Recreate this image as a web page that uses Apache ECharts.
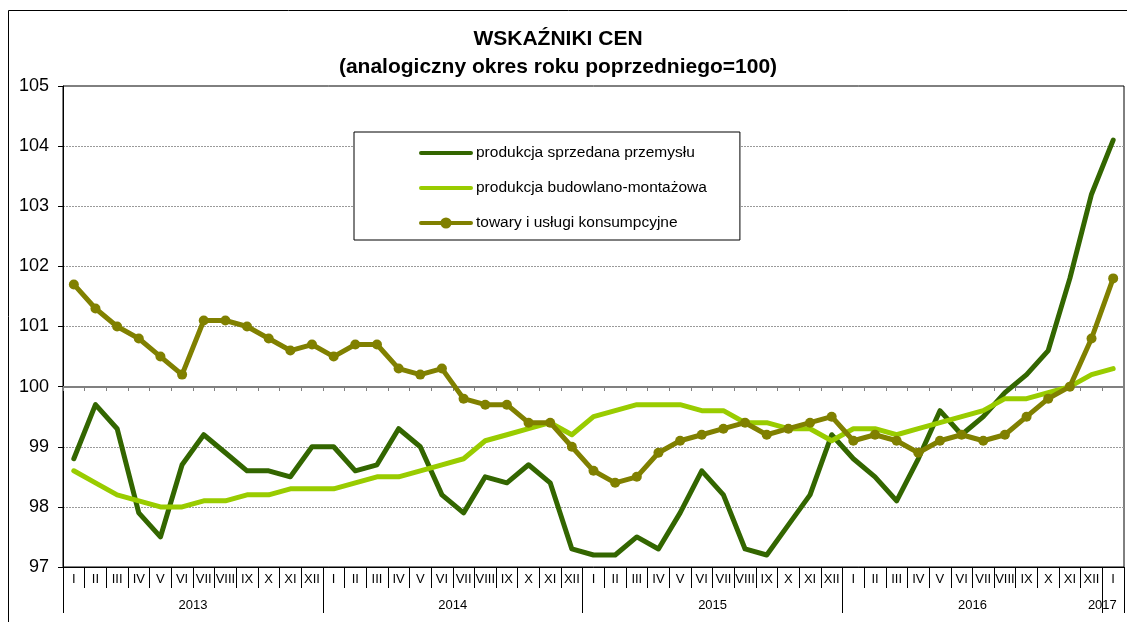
<!DOCTYPE html>
<html>
<head>
<meta charset="utf-8">
<script src="https://cdn.jsdelivr.net/npm/echarts@6/dist/echarts.min.js"></script>
<style>
  html, body { margin: 0; padding: 0; background: #fff; }
  #chart { width: 1127px; height: 622px; }
</style>
</head>
<body>
<div id="chart"></div>
<script>
// miesiące (rzymskie) i lata
const monthNames = ["I", "II", "III", "IV", "V", "VI", "VII", "VIII", "IX", "X", "XI", "XII"];
const years = ["2013", "2014", "2015", "2016", "2017"];

// wskaźniki cen, I 2013 - I 2017
const przemysl = [
  98.8, 99.7, 99.3, 97.9, 97.5, 98.7, 99.2, 98.9, 98.6, 98.6, 98.5, 99.0,
  99.0, 98.6, 98.7, 99.3, 99.0, 98.2, 97.9, 98.5, 98.4, 98.7, 98.4, 97.3,
  97.2, 97.2, 97.5, 97.3, 97.9, 98.6, 98.2, 97.3, 97.2, 97.7, 98.2, 99.2,
  98.8, 98.5, 98.1, 98.8, 99.6, 99.2, 99.5, 99.9, 100.2, 100.6, 101.8, 103.2,
  104.1
];
const budownictwo = [
  98.6, 98.4, 98.2, 98.1, 98.0, 98.0, 98.1, 98.1, 98.2, 98.2, 98.3, 98.3,
  98.3, 98.4, 98.5, 98.5, 98.6, 98.7, 98.8, 99.1, 99.2, 99.3, 99.4, 99.2,
  99.5, 99.6, 99.7, 99.7, 99.7, 99.6, 99.6, 99.4, 99.4, 99.3, 99.3, 99.1,
  99.3, 99.3, 99.2, 99.3, 99.4, 99.5, 99.6, 99.8, 99.8, 99.9, 100.0, 100.2,
  100.3
];
const konsumpcja = [
  101.7, 101.3, 101.0, 100.8, 100.5, 100.2, 101.1, 101.1, 101.0, 100.8, 100.6, 100.7,
  100.5, 100.7, 100.7, 100.3, 100.2, 100.3, 99.8, 99.7, 99.7, 99.4, 99.4, 99.0,
  98.6, 98.4, 98.5, 98.9, 99.1, 99.2, 99.3, 99.4, 99.2, 99.3, 99.4, 99.5,
  99.1, 99.2, 99.1, 98.9, 99.1, 99.2, 99.1, 99.2, 99.5, 99.8, 100.0, 100.8,
  101.8
];

const categories = [];
years.forEach((y, yi) => {
  const n = yi < years.length - 1 ? 12 : 1;
  for (let m = 0; m < n; m++) categories.push(monthNames[m]);
});

const font = "'Liberation Sans', Arial, sans-serif";
const chart = echarts.init(document.getElementById("chart"));

chart.setOption({
  animation: false,
  textStyle: { fontFamily: font, color: "#000" },
  title: {
    text: "WSKAŹNIKI CEN\n(analogiczny okres roku poprzedniego=100)",
    left: 553,
    top: 20,
    textAlign: "center",
    textStyle: { fontFamily: font, fontSize: 21, fontWeight: "bold", lineHeight: 28, color: "#000" }
  },
  graphic: [{
    type: "rect",
    z: -10,
    shape: { x: 8.5, y: 10.5, width: 1140, height: 640 },
    style: { fill: "none", stroke: "#000", lineWidth: 1 }
  }],
  legend: {
    orient: "vertical",
    left: 354,
    top: 132,
    padding: [13, 33, 9, 65],
    itemGap: 19,
    itemWidth: 50,
    itemHeight: 14,
    borderColor: "#000",
    borderWidth: 1,
    backgroundColor: "#fff",
    textStyle: { fontFamily: font, fontSize: 15.5, lineHeight: 14, color: "#000" },
    data: [
      { name: "produkcja sprzedana przemysłu", itemStyle: { opacity: 0 }, lineStyle: { width: 4 } },
      { name: "produkcja budowlano-montażowa", itemStyle: { opacity: 0 }, lineStyle: { width: 4 } },
      { name: "towary i usługi konsumpcyjne", lineStyle: { width: 4 } }
    ]
  },
  grid: {
    left: 63, right: 1, top: 86, bottom: 55,
    show: true, borderColor: "#000", borderWidth: 1, backgroundColor: "#fff"
  },
  xAxis: [
    {
      type: "category",
      data: categories,
      position: "bottom",
      boundaryGap: true,
      axisLine: { show: true, onZero: false, lineStyle: { color: "#000", width: 1 } },
      axisTick: { show: true, interval: 0, length: 21, lineStyle: { color: "#000" } },
      axisLabel: { interval: 0, margin: 6, fontSize: 13, color: "#000", fontFamily: font }
    },
    {
      type: "category",
      data: categories,
      position: "bottom",
      axisLine: { show: false, onZero: false },
      axisTick: { show: true, interval: (i) => i % 12 === 0, length: 46, lineStyle: { color: "#000" } },
      axisLabel: { show: false }
    },
    {
      type: "value",
      min: 0,
      max: 49,
      interval: 6,
      position: "bottom",
      axisLine: { show: false, onZero: false },
      axisTick: { show: false },
      splitLine: { show: false },
      axisLabel: {
        margin: 32, fontSize: 13, color: "#000", fontFamily: font,
        showMinLabel: true, showMaxLabel: true,
        formatter: (v) => (v % 12 === 6 ? years[(v - 6) / 12] : (v === 48 ? years[4] : ""))
      }
    },
    {
      type: "category",
      data: categories,
      position: "top",
      offset: -301,
      axisLine: { show: true, onZero: false, lineStyle: { color: "#808080", width: 2 } },
      axisTick: { show: true, inside: true, interval: 0, length: 4, lineStyle: { color: "#808080", width: 1 } },
      axisLabel: { show: false }
    }
  ],
  yAxis: {
    type: "value",
    min: 97,
    max: 105,
    interval: 1,
    axisLine: { show: true, lineStyle: { color: "#000" } },
    axisTick: { show: true, length: 5, lineStyle: { color: "#000" } },
    axisLabel: { margin: 14, fontSize: 18, color: "#000", fontFamily: font },
    splitLine: {
      show: true, showMinLine: false, showMaxLine: false,
      lineStyle: { color: "#9a9a9a", type: [2, 1], width: 1 }
    }
  },
  series: [
    {
      name: "produkcja sprzedana przemysłu",
      type: "line",
      data: przemysl,
      symbol: "none",
      itemStyle: { color: "#336600" },
      lineStyle: { color: "#336600", width: 5, join: "round", cap: "round" }
    },
    {
      name: "produkcja budowlano-montażowa",
      type: "line",
      data: budownictwo,
      symbol: "none",
      itemStyle: { color: "#99cc00" },
      lineStyle: { color: "#99cc00", width: 5, join: "round", cap: "round" }
    },
    {
      name: "towary i usługi konsumpcyjne",
      type: "line",
      data: konsumpcja,
      symbol: "circle",
      symbolSize: 10,
      showAllSymbol: true,
      itemStyle: { color: "#808000" },
      lineStyle: { color: "#808000", width: 5, join: "round", cap: "round" }
    }
  ]
});
</script>
</body>
</html>
